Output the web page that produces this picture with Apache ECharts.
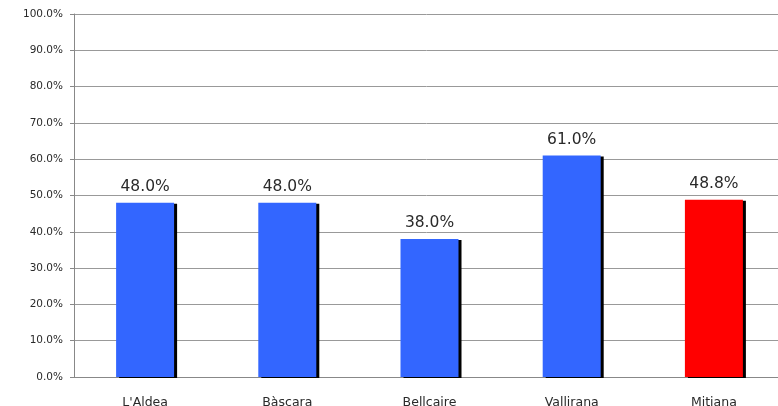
<!DOCTYPE html>
<html>
<head>
<meta charset="utf-8">
<script src="https://cdn.jsdelivr.net/npm/echarts@6/dist/echarts.min.js"></script>
<style>
  html, body { margin: 0; padding: 0; background: #fff; }
  #chart { width: 778px; height: 406px; }
</style>
</head>
<body>
<div id="chart"></div>
<script>
const towns = ["L'Aldea", 'Bàscara', 'Bellcaire', 'Vallirana', 'Mitiana']
const shares = [48.0, 48.0, 38.0, 61.0, 48.8]
const barColors = ['#3366ff', '#3366ff', '#3366ff', '#3366ff', '#ff0000']

const chart = echarts.init(document.getElementById('chart'))

const option = {
  animation: false,
  textStyle: { fontFamily: 'DejaVu Sans' },
  grid: {
    left: 74,
    top: 14,
    width: 711,
    bottom: 29,
    outerBoundsMode: 'none',
  },
  xAxis: {
    type: 'category',
    data: towns,
    axisLine: { lineStyle: { color: '#888', width: 1 } },
    axisTick: { length: 4, lineStyle: { color: '#888' } },
    axisLabel: { color: '#2a2a2a', fontSize: 12.5, margin: 19 },
  },
  yAxis: {
    type: 'value',
    min: 0,
    max: 100,
    interval: 10,
    axisLine: { show: true, lineStyle: { color: '#888', width: 1 } },
    axisTick: { show: true, length: 4, lineStyle: { color: '#888' } },
    axisLabel: {
      color: '#2a2a2a',
      fontSize: 10.5,
      margin: 11,
      formatter: function (v) {
        return v.toFixed(1) + '%'
      },
    },
    splitLine: { lineStyle: { color: '#999', width: 1 } },
  },
  series: [
    {
      type: 'bar',
      barWidth: 58,
      data: shares.map(function (v, i) {
        return { value: v, itemStyle: { color: barColors[i] } }
      }),
      itemStyle: {
        shadowColor: '#000',
        shadowBlur: 0,
        shadowOffsetX: 3,
        shadowOffsetY: 1,
      },
      label: {
        show: true,
        position: 'top',
        distance: 8,
        color: '#2a2a2a',
        fontSize: 15.5,
        formatter: function (p) {
          return p.value.toFixed(1) + '%'
        },
      },
    },
  ],
}

chart.setOption(option)
</script>
</body>
</html>
